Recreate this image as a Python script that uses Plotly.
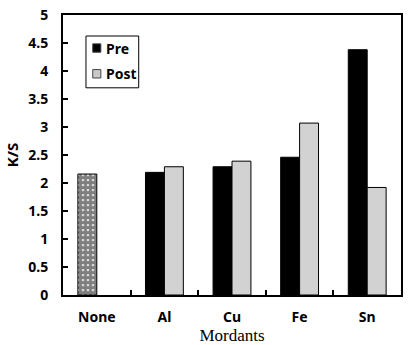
import plotly.graph_objects as go

# K/S values per mordant
categories = ["None", "Al", "Cu", "Fe", "Sn"]
mordanted = ["Al", "Cu", "Fe", "Sn"]
control_value = [2.16]
pre_values = [2.19, 2.29, 2.46, 4.38]
post_values = [2.29, 2.39, 3.07, 1.92]
y_ticks = [0, 0.5, 1, 1.5, 2, 2.5, 3, 3.5, 4, 4.5, 5]
y_tick_labels = ["0", "0.5", "1", "1.5", "2", "2.5", "3", "3.5", "4", "4.5", "5"]
series_names = ["Pre", "Post"]

bar_w = 0.28
sans = "Noto Sans"

post_pattern = dict(shape=".", fgcolor="#5a5a5a", bgcolor="#f4f4f4",
                    size=2, solidity=0.5)

fig = go.Figure()

# unmordanted control, checkered fill
fig.add_trace(go.Bar(
    x=["None"], y=control_value, width=bar_w, offset=-bar_w,
    showlegend=False,
    marker=dict(color="white", line=dict(color="black", width=1),
                pattern=dict(shape=".", fgcolor="black", bgcolor="white",
                             size=5, solidity=0.8)),
))
fig.add_trace(go.Bar(
    name=series_names[0], x=mordanted, y=pre_values, width=bar_w, offset=-bar_w,
    showlegend=False,
    marker=dict(color="black", line=dict(color="black", width=1)),
))
fig.add_trace(go.Bar(
    name=series_names[1], x=mordanted, y=post_values, width=bar_w, offset=0,
    showlegend=False,
    marker=dict(color="white", line=dict(color="black", width=1),
                pattern=post_pattern),
))

# legend box drawn in paper coordinates: frame, key squares and labels
lg_x0, lg_x1, lg_y0, lg_y1 = 0.068, 0.224, 0.74, 0.925
key_fill = ["black", "#c9c9c9"]
key_y = [0.882, 0.79]
shapes = [dict(type="rect", xref="paper", yref="paper",
               x0=lg_x0, x1=lg_x1, y0=lg_y0, y1=lg_y1,
               line=dict(color="black", width=1), fillcolor="white", layer="above")]
annotations = []
for name, fill, ky in zip(series_names, key_fill, key_y):
    shapes.append(dict(type="rect", xref="paper", yref="paper",
                       x0=lg_x0 + 0.02, x1=lg_x0 + 0.044,
                       y0=ky - 0.015, y1=ky + 0.015,
                       line=dict(color="#444444", width=1), fillcolor=fill,
                       layer="above"))
    annotations.append(dict(xref="paper", yref="paper", x=lg_x0 + 0.053, y=ky,
                            xanchor="left", yanchor="middle", showarrow=False,
                            text="<b>%s</b>" % name,
                            font=dict(family=sans, size=14, color="black")))

fig.update_layout(
    width=408, height=345,
    margin=dict(l=63, r=5, t=13, b=50),
    paper_bgcolor="white", plot_bgcolor="white",
    barmode="overlay",
    showlegend=False,
    shapes=shapes,
    annotations=annotations,
    xaxis=dict(
        type="category", categoryorder="array", categoryarray=categories,
        tickvals=categories, ticktext=["<b>%s</b>" % c for c in categories],
        range=[-0.5, 4.5],
        showline=True, linecolor="black", linewidth=2, mirror=True,
        ticks="inside", tickson="boundaries", ticklen=5, tickcolor="black",
        tickwidth=2, ticklabelstandoff=8,
        tickfont=dict(family=sans, size=14, color="black"),
        title=dict(text="Mordants", standoff=0,
                   font=dict(family="Liberation Serif", size=17, color="black")),
        showgrid=False,
    ),
    yaxis=dict(
        range=[0, 5], tickvals=y_ticks,
        ticktext=["<b>%s</b>" % t for t in y_tick_labels],
        showline=True, linecolor="black", linewidth=2, mirror=True,
        ticks="inside", ticklen=5, tickcolor="black", tickwidth=2,
        ticklabelstandoff=10,
        tickfont=dict(family=sans, size=14, color="black"),
        title=dict(text="<b>K/S</b>", standoff=6,
                   font=dict(family=sans, size=15, color="black")),
        showgrid=False, zeroline=False,
    ),
)

fig.write_html("out.html")
